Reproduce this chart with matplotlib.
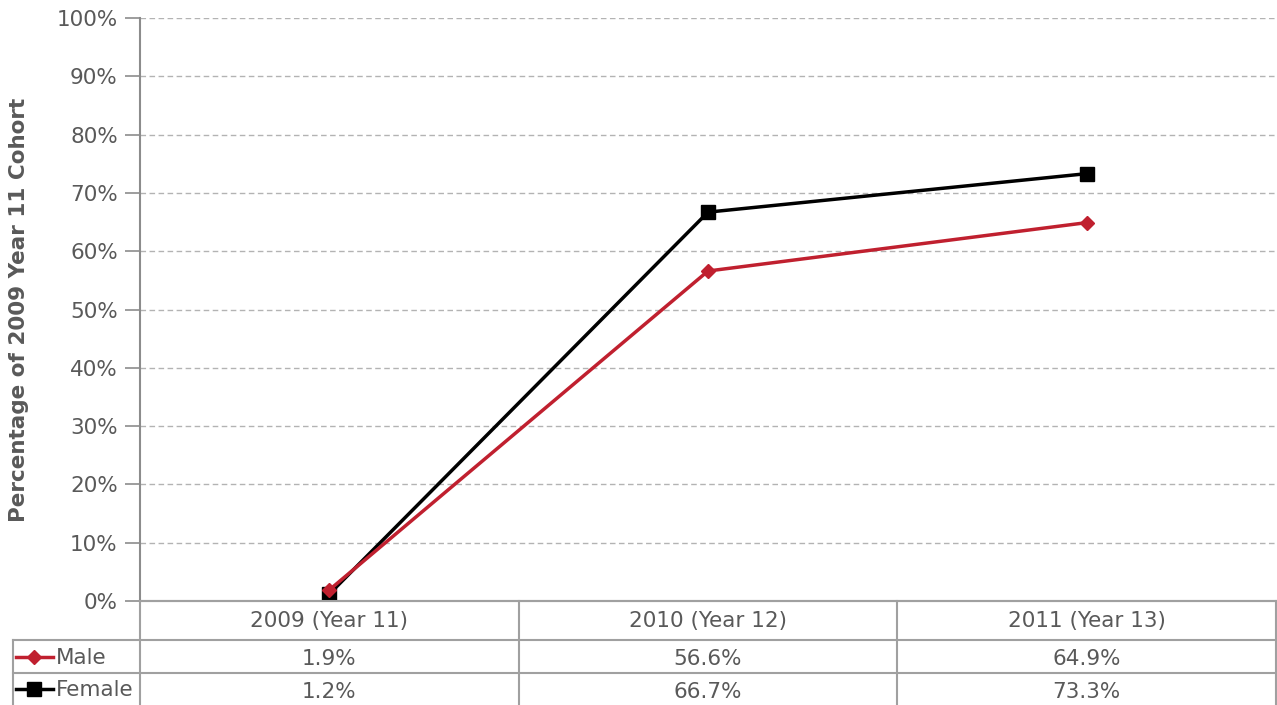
import numpy as np
from matplotlib import pyplot as plt

categories = ['2009 (Year 11)', '2010 (Year 12)', '2011 (Year 13)']
male = [1.9, 56.6, 64.9]
female = [1.2, 66.7, 73.3]
series_names = ['Male', 'Female']
ylabel = 'Percentage of 2009 Year 11 Cohort'

W, H = 1277, 705
text_col = '#595959'
red = '#c0202f'
fs = 15.5

fig = plt.figure(figsize=(W / 100, H / 100), dpi=100)

# main plot area (pixel box: x 140..1276, y 18..601)
ax = fig.add_axes([140 / W, (H - 601) / H, (1276 - 140) / W, (601 - 18) / H])
x = np.arange(len(categories))
ax.plot(x, female, color='black', lw=2.5, marker='s', ms=10, zorder=3)
ax.plot(x, male, color=red, lw=2.5, marker='D', ms=7, zorder=4)

ax.set_xlim(-0.5, 2.5)
ax.set_ylim(0, 100)
ax.set_yticks(np.arange(0, 101, 10))
ax.set_yticklabels([f'{v}%' for v in range(0, 101, 10)])
ax.set_xticks([])
ax.tick_params(axis='y', colors='#8c8c8c', labelcolor=text_col, labelsize=fs,
               length=11, width=1.2, pad=5)
ax.yaxis.grid(True, linestyle=(0, (4, 2.5)), color='#b3b3b3', lw=1)
ax.set_axisbelow(True)
for s in ['top', 'right']:
    ax.spines[s].set_visible(False)
for s in ['left', 'bottom']:
    ax.spines[s].set_color('#8c8c8c')
    ax.spines[s].set_linewidth(1.5)
ax.set_ylabel(ylabel, fontsize=fs, fontweight='bold', color=text_col)
ax.yaxis.set_label_coords(-111 / (1276 - 140), 0.5)

# data table below the plot
cat_w = (1276 - 140) / 3
left_w = (140 - 13) / cat_w
tab = fig.add_axes([13 / W, 0, (1276 - 13) / W, (705 - 601) / H])
tab.set_xlim(-0.5 - left_w, 2.5)
tab.set_ylim(104, 0)
tab.axis('off')
rows = [0, 39, 72, 104]
lc = '#a0a0a0'
tab.plot([-0.5, 2.5], [rows[0], rows[0]], color=lc, lw=1.5, clip_on=False)
for r in rows[1:3]:
    tab.plot([-0.5 - left_w, 2.5], [r, r], color=lc, lw=1.5, clip_on=False)
for xv in [-0.5, 0.5, 1.5, 2.5]:
    tab.plot([xv, xv], [0, 104], color=lc, lw=1.5, clip_on=False)
tab.plot([-0.5 - left_w, -0.5 - left_w], [rows[1], 104], color=lc, lw=1.5, clip_on=False)

for i, c in enumerate(categories):
    tab.text(i, (rows[0] + rows[1]) / 2 + 1, c, ha='center', va='center',
             fontsize=fs, color=text_col)

px = 1 / cat_w
x0 = -0.5 - left_w
for j, (name, vals, col, mk, ms) in enumerate(zip(series_names, [male, female],
                                                 [red, 'black'], ['D', 's'], [7, 10])):
    yc = (rows[j + 1] + rows[j + 2]) / 2
    tab.plot([x0 + 3 * px, x0 + 40 * px], [yc, yc], color=col, lw=2.5, clip_on=False)
    tab.plot([x0 + 21 * px], [yc], color=col, marker=mk, ms=ms, clip_on=False)
    tab.text(x0 + 43 * px, yc + 1.5, name, ha='left', va='center', fontsize=fs, color=text_col)
    for i, v in enumerate(vals):
        tab.text(i, yc + 2.5, f'{v:.1f}%', ha='center', va='center', fontsize=fs, color=text_col)

fig.savefig('out.png', dpi=100)
